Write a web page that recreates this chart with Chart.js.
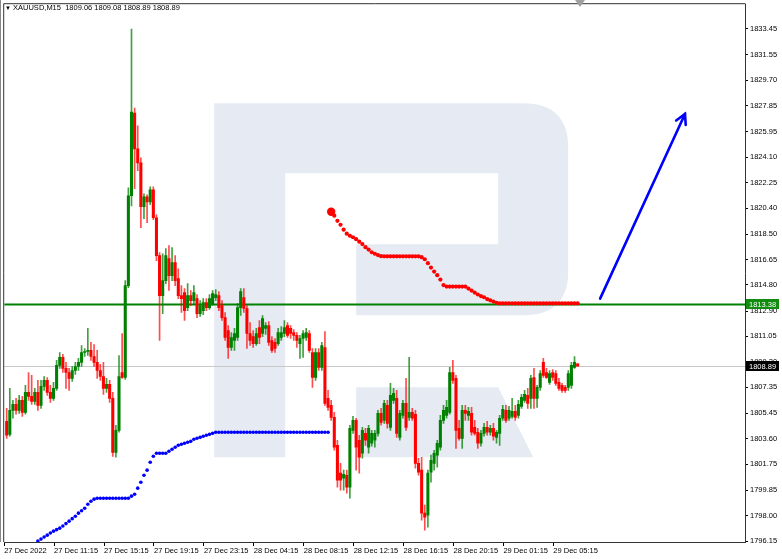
<!DOCTYPE html>
<html><head><meta charset="utf-8">
<script src="https://cdn.jsdelivr.net/npm/chart.js@4.4.0/dist/chart.umd.min.js"></script>
<style>
html,body{margin:0;padding:0;background:#fff;}
#wrap{position:relative;width:782px;height:559px;}
#hdr{position:absolute;left:5px;top:3px;font:7.5px "Liberation Sans",Arial,sans-serif;color:#000;white-space:pre;line-height:10px;}
#hdr span{font-size:6px;}
</style></head><body>
<div id="wrap"><canvas id="c" width="782" height="559"></canvas>
<div id="hdr"><span>▼</span> XAUUSD,M15  1809.06 1809.08 1808.89 1808.89</div></div>
<script>
const opens=[1804.87,1803.92,1805.67,1806.10,1805.67,1806.39,1805.52,1806.97,1806.68,1806.32,
1806.97,1806.03,1807.41,1807.85,1806.97,1806.54,1807.27,1808.94,1809.52,1808.72,
1808.42,1807.99,1808.57,1808.86,1809.16,1809.88,1809.95,1810.03,1809.59,1809.16,
1808.57,1808.13,1807.27,1807.56,1806.54,1802.61,1804.21,1808.42,1808.06,1814.75,
1821.29,1827.32,1824.71,1823.69,1820.49,1821.22,1820.85,1821.73,1819.69,1816.93,
1814.02,1815.11,1816.71,1815.47,1816.42,1815.26,1814.02,1814.24,1813.15,1814.02,
1813.66,1813.80,1812.71,1812.93,1813.51,1813.15,1813.44,1813.88,1814.02,1813.30,
1812.42,1811.48,1810.24,1810.75,1810.97,1813.15,1813.88,1813.08,1811.26,1811.04,
1810.53,1811.70,1811.26,1811.63,1811.84,1810.75,1810.61,1810.53,1810.97,1811.26,
1811.84,1811.63,1811.33,1811.12,1810.53,1810.90,1810.97,1811.26,1809.88,1808.06,
1809.88,1808.79,1810.24,1806.54,1806.03,1805.16,1803.12,1801.09,1800.72,1800.94,
1800.07,1804.21,1804.94,1803.49,1802.54,1803.99,1802.98,1803.27,1803.49,1803.99,
1805.45,1804.94,1806.03,1804.43,1806.39,1806.54,1803.70,1805.30,1806.17,1805.16,
1805.52,1805.38,1801.81,1801.31,1798.18,1798.03,1801.16,1801.81,1802.40,1802.98,
1804.94,1805.30,1805.52,1808.42,1807.99,1804.36,1803.63,1805.67,1805.30,1805.45,
1804.43,1804.07,1803.27,1803.99,1804.43,1804.07,1804.36,1803.70,1803.99,1805.09,
1805.67,1805.09,1805.23,1805.59,1805.30,1805.96,1806.39,1806.76,1806.54,1808.06,
1806.54,1807.34,1809.16,1808.42,1807.70,1808.42,1808.35,1807.70,1807.49,1807.34,
1807.34,1807.49,1808.79,1809.06];
const highs=[1805.81,1807.27,1806.39,1806.54,1806.76,1806.68,1807.49,1808.42,1808.21,1807.27,
1807.85,1807.85,1808.13,1808.06,1807.49,1807.70,1809.30,1809.88,1809.74,1809.16,
1808.72,1808.86,1809.16,1809.45,1810.39,1810.17,1811.63,1810.61,1810.46,1810.03,
1809.01,1809.16,1807.99,1807.85,1806.97,1804.58,1809.66,1811.26,1815.11,1821.87,
1833.43,1827.68,1826.38,1824.05,1821.44,1821.36,1821.94,1821.94,1819.91,1817.15,
1817.07,1817.44,1817.66,1817.51,1816.93,1815.98,1814.75,1814.53,1814.89,1814.39,
1814.75,1814.09,1813.66,1813.80,1813.80,1814.09,1814.39,1814.46,1814.31,1813.66,
1812.79,1811.84,1811.33,1811.63,1813.44,1814.53,1814.53,1813.30,1812.06,1811.48,
1811.63,1812.21,1812.57,1812.06,1812.13,1811.04,1810.90,1811.63,1811.77,1812.21,
1812.06,1811.84,1811.55,1811.33,1811.12,1811.48,1811.63,1811.48,1810.17,1810.17,
1810.17,1810.61,1811.41,1807.12,1806.39,1805.52,1803.49,1801.81,1801.31,1801.31,
1804.58,1805.23,1805.09,1803.85,1804.43,1804.36,1804.58,1804.21,1804.21,1805.67,
1805.81,1806.39,1806.39,1807.63,1807.27,1807.12,1805.67,1806.39,1807.99,1809.52,
1805.81,1805.67,1802.18,1802.25,1798.76,1801.31,1802.40,1802.76,1803.49,1805.30,
1806.03,1806.39,1808.79,1809.30,1808.21,1804.94,1806.03,1806.03,1805.88,1805.88,
1804.94,1804.36,1804.21,1804.72,1804.87,1804.58,1804.72,1804.21,1805.30,1806.03,
1806.03,1805.96,1806.54,1806.03,1806.39,1806.83,1807.12,1807.27,1808.21,1808.72,
1807.49,1808.57,1809.45,1808.72,1808.57,1808.64,1808.57,1807.99,1807.63,1807.49,
1808.57,1809.16,1809.59,1809.08];
const lows=[1803.63,1803.78,1805.09,1805.38,1805.45,1805.23,1805.38,1806.39,1806.10,1806.10,
1805.67,1805.81,1807.12,1806.76,1806.25,1806.39,1807.12,1808.72,1808.42,1807.27,
1807.12,1807.77,1808.28,1808.57,1808.86,1809.59,1809.66,1809.30,1808.86,1807.99,
1807.85,1806.83,1806.97,1806.25,1802.32,1802.25,1804.07,1807.99,1807.92,1814.60,
1820.56,1821.80,1823.11,1818.96,1819.62,1819.33,1820.64,1819.55,1816.57,1810.75,
1812.71,1814.89,1814.39,1815.11,1814.75,1813.80,1812.79,1812.21,1812.93,1813.30,
1813.44,1812.42,1812.50,1812.64,1812.93,1813.01,1813.30,1813.66,1812.93,1812.21,
1810.75,1809.45,1810.03,1810.03,1810.75,1812.57,1812.79,1810.17,1810.39,1810.24,
1810.39,1810.53,1811.04,1811.19,1810.39,1809.88,1809.88,1810.39,1810.75,1811.04,
1810.97,1810.90,1810.75,1810.24,1809.45,1809.52,1810.75,1809.88,1807.34,1807.85,
1808.57,1808.57,1806.03,1805.67,1804.94,1802.76,1800.07,1799.85,1799.85,1799.63,
1799.27,1803.99,1801.31,1801.09,1802.18,1803.12,1802.54,1803.05,1802.98,1803.78,
1804.58,1804.72,1804.36,1804.21,1806.17,1803.70,1803.49,1805.09,1804.21,1804.94,
1804.94,1801.45,1800.94,1797.67,1796.95,1797.16,1800.43,1801.31,1801.52,1802.76,
1804.72,1805.09,1805.38,1807.63,1802.90,1803.49,1802.90,1804.94,1804.94,1803.85,
1803.85,1802.90,1803.05,1803.78,1803.85,1803.85,1803.49,1803.27,1803.12,1804.94,
1804.79,1804.94,1805.09,1804.94,1805.09,1805.81,1806.25,1805.81,1805.81,1805.81,
1805.88,1807.12,1808.06,1807.99,1807.56,1807.85,1807.49,1807.12,1806.97,1806.97,
1807.12,1807.27,1808.72,1808.89];
const closes=[1803.85,1805.67,1806.10,1805.67,1806.39,1805.52,1806.97,1806.68,1806.32,1806.97,
1806.03,1807.41,1807.85,1806.97,1806.54,1807.27,1808.94,1809.52,1808.72,1808.42,
1807.99,1808.57,1808.86,1809.16,1809.88,1809.95,1810.03,1809.59,1809.16,1808.57,
1808.13,1807.27,1807.56,1806.54,1802.61,1804.21,1808.13,1808.06,1814.75,1821.29,
1827.39,1824.71,1823.69,1820.49,1821.22,1820.85,1821.73,1819.69,1816.93,1814.02,
1815.11,1816.93,1815.47,1816.42,1815.11,1814.02,1813.80,1812.93,1814.02,1813.66,
1814.24,1812.71,1813.30,1813.51,1813.15,1813.80,1814.17,1814.09,1813.15,1812.42,
1810.97,1810.24,1810.97,1811.26,1813.15,1814.31,1813.08,1811.26,1810.75,1810.53,
1811.26,1810.97,1812.35,1811.84,1810.61,1810.03,1810.17,1811.33,1811.33,1811.70,
1811.12,1811.26,1811.12,1810.75,1810.90,1811.26,1811.33,1810.03,1808.06,1809.88,
1808.79,1810.39,1806.17,1805.88,1805.16,1802.98,1800.58,1800.58,1801.01,1800.07,
1804.36,1804.94,1802.98,1802.25,1804.21,1803.49,1804.36,1803.99,1803.99,1805.45,
1804.79,1806.17,1804.72,1806.76,1806.90,1803.99,1805.45,1806.17,1804.43,1805.52,
1805.09,1801.81,1801.16,1798.18,1797.89,1801.09,1802.03,1802.54,1803.27,1804.94,
1805.67,1805.88,1808.42,1807.85,1804.21,1803.63,1805.67,1805.45,1805.59,1804.07,
1803.99,1803.27,1803.99,1804.43,1804.07,1804.36,1803.78,1804.07,1805.09,1805.74,
1804.94,1805.67,1805.59,1805.16,1806.10,1806.61,1806.83,1806.17,1807.99,1806.54,
1807.34,1808.35,1808.21,1808.06,1808.35,1808.06,1807.63,1807.27,1807.12,1807.12,
1808.35,1808.94,1809.16,1808.89];

const blueSarStart=10;
const blueSar=[1796.15,1796.29,1796.44,1796.58,1796.73,1796.87,1796.98,1797.09,1797.24,1797.42,
1797.60,1797.78,1797.96,1798.18,1798.36,1798.54,1798.83,1799.05,1799.20,
1799.27,1799.27,1799.27,1799.27,1799.27,1799.27,1799.27,1799.27,1799.27,1799.27,1799.27,
1799.42,1799.56,1800.00,1800.43,1800.94,1801.31,1801.89,1802.32,
1802.54,1802.54,1802.54,1802.54,
1802.69,1802.83,1802.98,1803.12,1803.20,1803.27,1803.34,1803.41,1803.56,1803.63,1803.70,1803.78,1803.85,1803.92,1803.99,
1804.07,1804.07,1804.07,1804.07,1804.07,1804.07,1804.07,1804.07,1804.07,1804.07,
1804.07,1804.07,1804.07,1804.07,1804.07,1804.07,1804.07,1804.07,1804.07,1804.07,
1804.07,1804.07,1804.07,1804.07,1804.07,1804.07,1804.07,1804.07,1804.07,1804.07,
1804.07,1804.07,1804.07,1804.07,1804.07,1804.07,1804.07];
const redSarStart=104;
const redSar=[1820.13,1819.84,1819.47,1819.18,1818.82,1818.53,1818.38,1818.27,1818.13,1817.95,
1817.77,1817.55,1817.37,1817.18,1817.07,1816.97,1816.89,
1816.88,1816.88,1816.88,1816.88,1816.88,1816.88,1816.88,1816.88,1816.88,1816.88,1816.88,1816.88,
1816.82,1816.67,1816.38,1816.06,1815.77,1815.51,1815.19,1814.79,
1814.68,1814.68,1814.68,1814.68,1814.68,1814.68,1814.68,
1814.53,1814.39,1814.24,1814.10,1813.99,1813.90,1813.77,1813.68,1813.59,1813.50,
1813.46,1813.46,1813.46,1813.46,1813.46,1813.46,1813.46,1813.46,1813.46,1813.46,
1813.46,1813.46,1813.46,1813.46,1813.46,1813.46,1813.46,1813.46,1813.46,1813.46,
1813.46,1813.46,1813.46,1813.46,1813.46,1813.46];

const xTickLabels=["27 Dec 2022","27 Dec 11:15","27 Dec 15:15","27 Dec 19:15","27 Dec 23:15","28 Dec 04:15","28 Dec 08:15","28 Dec 12:15","28 Dec 16:15","28 Dec 20:15","29 Dec 01:15","29 Dec 05:15"];
const xTickBars=[0,16,32,48,64,80,96,112,128,144,160,176];
const yTickLabels=["1796.15","1798.00","1799.85","1801.75","1803.60","1805.45","1807.35","1809.20","1811.05","1812.90","1814.80","1816.65","1818.50","1820.40","1822.25","1824.10","1825.95","1827.85","1829.70","1831.55","1833.45"];
const levelGreen=1813.38, levelGreenLabel="1813.38";
const bidLevel=1808.89, bidLabel="1808.89";
const arrowFrom={x:190.2,y:1813.80};
const arrowTo={x:217.4,y:1827.25};

const yMin=1796.08, yMax=1835.24;
const xMin=-0.8, xMax=236.64, TICK_SHIFT=-0.8;
const FONT='"Liberation Sans", Arial, sans-serif';
const GREEN='rgb(0,128,0)', RED='rgb(255,0,0)';

const bodyData=opens.map((o,i)=>({x:i,y:[o,closes[i]]}));
const wickData=lows.map((l,i)=>({x:i,y:[l,highs[i]]}));
const bodyColors=opens.map((o,i)=>closes[i]>=o?GREEN:RED);
const wickColors=opens.map((o,i)=>closes[i]>=o?'rgba(0,128,0,0.75)':'rgba(255,0,0,0.7)');
const blueData=blueSar.map((v,k)=>({x:blueSarStart+k,y:v}));
const redData=redSar.map((v,k)=>({x:redSarStart+k,y:v}));
const redRadius=redSar.map((v,k)=>k===0?4.2:2.1);

const deco={
  id:'deco',
  beforeDatasetsDraw(chart){
    const {ctx,chartArea:ca,scales:{y}}=chart;
    ctx.save();
    ctx.beginPath();ctx.rect(ca.left,ca.top,ca.right-ca.left,ca.bottom-ca.top);ctx.clip();
    ctx.fillStyle='#e5eaf3';
    const ox=ca.left-3, oy=ca.top-3;
    ctx.beginPath();
    ctx.moveTo(ox+213,oy+102);
    ctx.lineTo(ox+522,oy+102);
    ctx.quadraticCurveTo(ox+567,oy+102,ox+567,oy+147);
    ctx.lineTo(ox+567,oy+270);
    ctx.quadraticCurveTo(ox+567,oy+314,ox+522,oy+314);
    ctx.lineTo(ox+355,oy+314);
    ctx.lineTo(ox+355,oy+243);
    ctx.lineTo(ox+497,oy+243);
    ctx.lineTo(ox+497,oy+172);
    ctx.lineTo(ox+284,oy+172);
    ctx.lineTo(ox+284,oy+456);
    ctx.lineTo(ox+213,oy+456);
    ctx.closePath();ctx.fill();
    ctx.beginPath();
    ctx.moveTo(ox+355,oy+386);ctx.lineTo(ox+497,oy+386);ctx.lineTo(ox+532,oy+456);ctx.lineTo(ox+355,oy+456);
    ctx.closePath();ctx.fill();
    let py=Math.round(y.getPixelForValue(bidLevel))+0.5;
    ctx.strokeStyle='#c8c8c8';ctx.lineWidth=1;
    ctx.beginPath();ctx.moveTo(ca.left,py);ctx.lineTo(ca.right,py);ctx.stroke();
    py=y.getPixelForValue(levelGreen);
    ctx.strokeStyle='#008000';ctx.lineWidth=2;
    ctx.beginPath();ctx.moveTo(ca.left,py);ctx.lineTo(ca.right,py);ctx.stroke();
    ctx.restore();
  },
  afterDraw(chart){
    const {ctx,chartArea:ca,scales:{y}}=chart;
    ctx.save();
    ctx.strokeStyle='#888';ctx.lineWidth=1;
    ctx.beginPath();ctx.moveTo(0.5,0);ctx.lineTo(0.5,ca.bottom);ctx.stroke();
    ctx.strokeStyle='#333';
    ctx.beginPath();ctx.moveTo(ca.left-0.5,ca.bottom);ctx.lineTo(ca.left-0.5,ca.top-0.5);ctx.lineTo(ca.right+0.5,ca.top-0.5);ctx.stroke();
    const meta=chart.getDatasetMeta(4);
    const p0=meta.data[0],p1=meta.data[1];
    const ang=Math.atan2(p1.y-p0.y,p1.x-p0.x);
    ctx.strokeStyle='#0000ff';ctx.lineWidth=2.6;ctx.lineCap='round';
    ctx.beginPath();
    ctx.moveTo(p1.x-11*Math.cos(ang+0.5),p1.y-11*Math.sin(ang+0.5));
    ctx.lineTo(p1.x,p1.y);
    ctx.lineTo(p1.x-11*Math.cos(ang-0.5),p1.y-11*Math.sin(ang-0.5));
    ctx.stroke();
    ctx.fillStyle='#a0a0a0';
    ctx.beginPath();ctx.moveTo(575,0);ctx.lineTo(585,0);ctx.lineTo(580,7);ctx.closePath();ctx.fill();
    ctx.font='7.5px '+FONT;ctx.textBaseline='middle';ctx.textAlign='left';
    const box=(v,bg,txt)=>{
      const p=Math.round(y.getPixelForValue(v));
      ctx.fillStyle=bg;ctx.fillRect(ca.right+1,p-5,33,10);
      ctx.fillStyle='#fff';ctx.fillText(txt,ca.right+4,p+0.5);
    };
    box(levelGreen,'#118c11',levelGreenLabel);
    box(bidLevel,'#000',bidLabel);
    ctx.restore();
  }
};

new Chart(document.getElementById('c'),{
  type:'bar',
  data:{datasets:[
    {type:'line',data:redData,showLine:false,pointRadius:redRadius,pointBackgroundColor:'#ff0000',pointBorderWidth:0,order:0},
    {type:'line',data:blueData,showLine:false,pointRadius:1.8,pointBackgroundColor:'#0000ff',pointBorderWidth:0,order:1},
    {type:'bar',data:bodyData,backgroundColor:bodyColors,barThickness:2.4,grouped:false,minBarLength:1,borderWidth:0,order:2},
    {type:'bar',data:wickData,backgroundColor:wickColors,barThickness:1,grouped:false,borderWidth:0,order:3},
    {type:'line',data:[arrowFrom,arrowTo],borderColor:'#0000ff',borderWidth:2.6,pointRadius:0,order:-1,clip:false,borderCapStyle:'round'}
  ]},
  options:{
    responsive:false,animation:false,devicePixelRatio:1,events:[],
    layout:{padding:{left:3,top:3,right:0,bottom:0}},
    plugins:{legend:{display:false},tooltip:{enabled:false},title:{display:false}},
    scales:{
      x:{type:'linear',position:'bottom',min:xMin,max:xMax,bounds:'data',offset:false,
        afterBuildTicks:s=>{s.ticks=xTickBars.map(b=>({value:b+TICK_SHIFT}));},
        afterFit:s=>{s.height=17;s.paddingLeft=0;s.paddingRight=0;},
        ticks:{autoSkip:false,maxRotation:0,minRotation:0,align:'start',padding:0,color:'#000',font:{family:FONT,size:7.5},callback:(v,i)=>xTickLabels[i]},
        grid:{drawOnChartArea:false,offset:false,tickLength:4,color:'#000',lineWidth:1},
        border:{display:true,color:'#333',width:1}},
      y:{type:'linear',position:'right',min:yMin,max:yMax,bounds:'data',beginAtZero:false,
        afterBuildTicks:s=>{s.ticks=yTickLabels.map(t=>({value:parseFloat(t)}));},
        afterFit:s=>{s.width=37;s.paddingTop=0;s.paddingBottom=0;},
        ticks:{autoSkip:false,padding:2,color:'#000',font:{family:FONT,size:7.5},callback:(v,i)=>yTickLabels[i]},
        grid:{drawOnChartArea:false,tickLength:3,color:'#000',lineWidth:1},
        border:{display:true,color:'#333',width:1}}
    }
  },
  plugins:[deco]
});
</script>
</body></html>
